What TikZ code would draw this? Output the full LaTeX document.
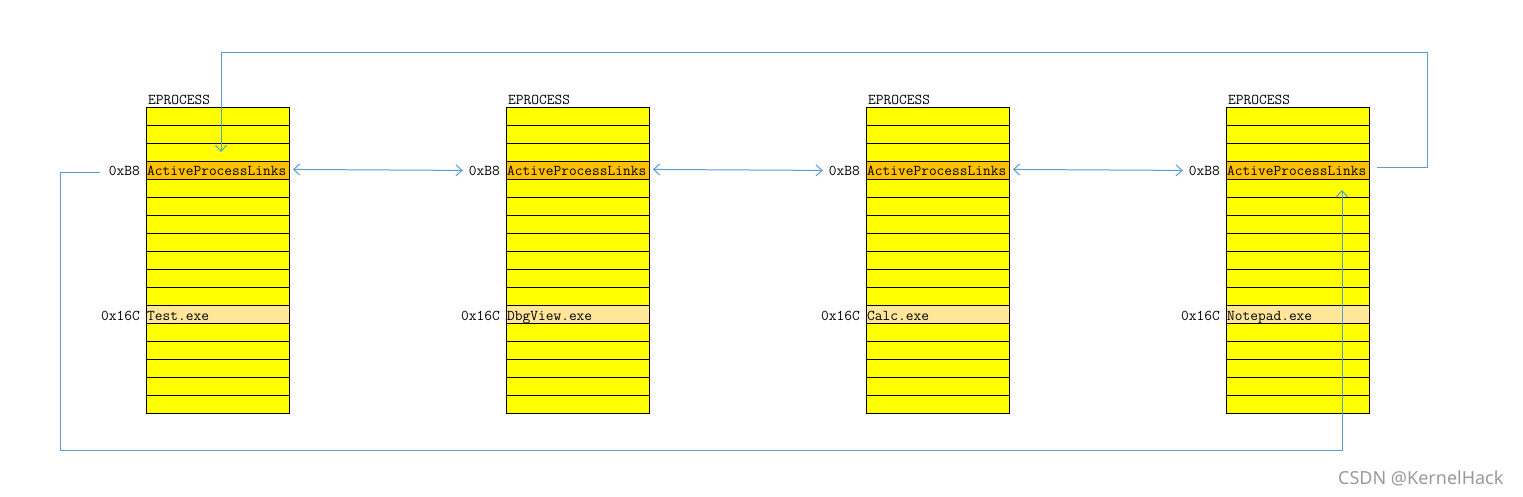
\documentclass[tikz,border=0pt]{standalone}
\usepackage{fontspec}
\newfontfamily\wmfont{Noto Sans}
\usetikzlibrary{arrows.meta}
\definecolor{rowyellow}{HTML}{FFFF00}
\definecolor{roworange}{HTML}{FFC000}
\definecolor{rowlight}{HTML}{FFE699}
\definecolor{linkblue}{HTML}{5B9BD5}
\tikzset{
  row/.style={draw=black, line width=0.9pt, fill=rowyellow, minimum width=143pt, minimum height=18pt, inner sep=0pt, anchor=north west},
  txt/.style={font=\fontsize{15}{16}\selectfont\ttfamily, inner sep=0pt},
  link/.style={draw=linkblue, line width=1pt},
  tip/.style={-{Straight Barb[length=6pt,width=11pt,line width=1pt]}},
  dtip/.style={{Straight Barb[length=6pt,width=11pt,line width=1pt]}-{Straight Barb[length=6pt,width=11pt,line width=1pt]}}
}
\begin{document}
\begin{tikzpicture}[x=1pt,y=-1pt]
\useasboundingbox (0,0) rectangle (1523,497);
\foreach \b/\x/\name in {1/146/Test.exe, 2/506/DbgView.exe, 3/866/Calc.exe, 4/1226/Notepad.exe}{
  \foreach \i in {0,...,16}{
    \node[row] (b\b r\i) at (\x,{107+18*\i}) {};
  }
  \node[row, fill=roworange] at (\x,161) {};
  \node[row, fill=rowlight] at (\x,305) {};
  \node[txt, anchor=base west] (e\b) at (\x+2,105) {EPROCESS};
  \node[txt, anchor=base west] (a\b) at (\x+1,176) {ActiveProcessLinks};
  \node[txt, anchor=base west] (n\b) at (\x+1,320) {\name};
  \node[txt, anchor=base east] (lb\b) at (\x-6,176) {0xB8};
  \node[txt, anchor=base east] (lc\b) at (\x-6,320) {0x16C};
}
% horizontal double links
\draw[link,dtip] ([xshift=3pt,yshift=1pt]b1r3.east) -- ([xshift=-6pt,yshift=1pt]lb2.west);
\draw[link,dtip] ([xshift=3pt,yshift=1pt]b2r3.east) -- ([xshift=-6pt,yshift=1pt]lb3.west);
\draw[link,dtip] ([xshift=3pt,yshift=1pt]b3r3.east) -- ([xshift=-6pt,yshift=1pt]lb4.west);
% top loop
\coordinate (tr) at (1427,53);
\coordinate (tend) at (221,152);
\draw[link,tip] (1377,168) -- (1427,168) -- (tr) -- (221,53) -- (tend);
% bottom loop
\coordinate (bl) at (60,450);
\coordinate (bend) at (1342,190);
\draw[link,tip] (100,173) -- (60,173) -- (bl) -- (1342,450) -- (bend);
% watermark
\node[font=\wmfont\fontsize{18}{20}\selectfont, text=black!40, anchor=east] (wm) at (1507,478) {CSDN @KernelHack};
\end{tikzpicture}
\end{document}
